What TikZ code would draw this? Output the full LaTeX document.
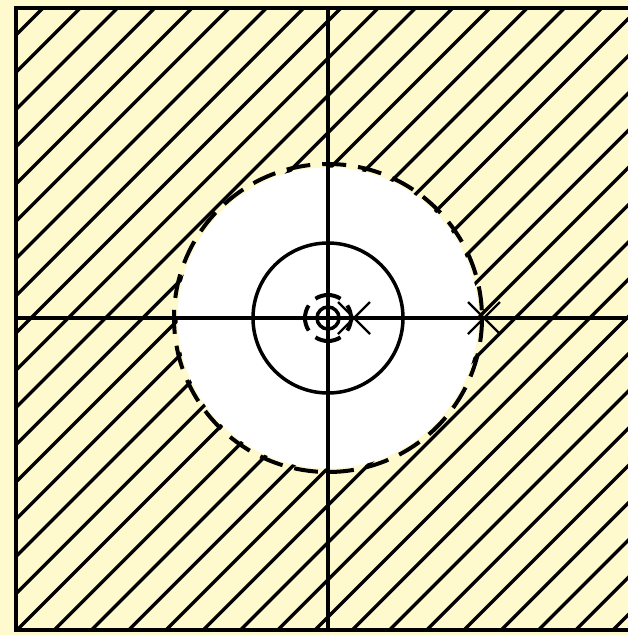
\documentclass[tikz,border=0pt]{standalone}
\usepackage{tikz}
\usepackage{xcolor}
\definecolor{paper}{RGB}{255,249,206}

\begin{document}
\begin{tikzpicture}[x=1pt,y=-1pt,line width=3.5pt]
    \useasboundingbox (0,0) rectangle (628,635);
    \fill[paper] (0,0) rectangle (628,635);
    \coordinate (O) at (328,318);
    \coordinate (p1) at (354,318);
    \coordinate (p2) at (484,318);

    % hatched region
    \begin{scope}
        \clip (16,8) rectangle (640,630);
        \foreach \k in {0,...,34}
            \draw (51+37.25*\k,0) -- (0,51+37.25*\k);
    \end{scope}
    \fill[white] (O) circle (150.5);
    \draw[line width=4pt,dash pattern=on 24pt off 12pt] (O) circle (154);

    \draw[line width=4pt] (16,8) rectangle (640,630);
    \draw (O |- 0,8) -- (O |- 0,630);
    \draw (16,318) -- (640,318);

    \draw (O) circle (75);
    \foreach \a in {0,90,180,270}
        \draw[line width=4pt] (O) ++(\a-33:23) arc[start angle=\a-33, end angle=\a+33, radius=23];
    \draw (O) circle (11);

    % poles
    \foreach \p in {p1,p2}
        \draw[line width=2.2pt] (\p) ++(-16,-16) -- ++(32,32) (\p) ++(-16,16) -- ++(32,-32);
\end{tikzpicture}
\end{document}
